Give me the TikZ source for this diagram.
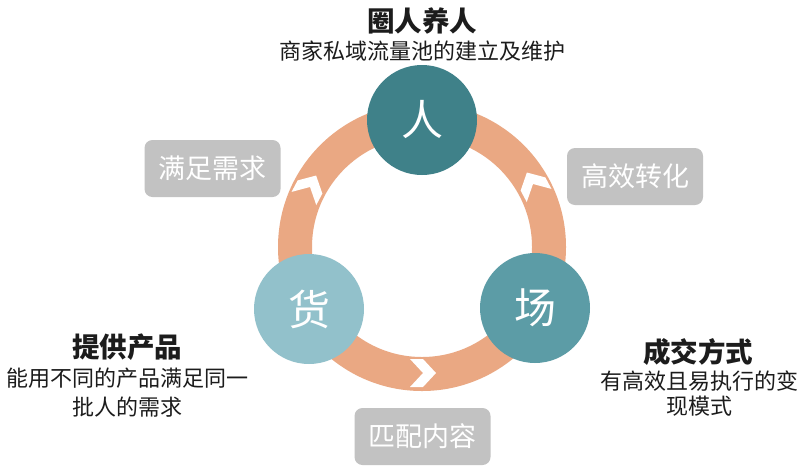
\documentclass[tikz,border=0pt]{standalone}
\usepackage{fontspec}
\setmainfont{Noto Sans CJK SC}
\definecolor{ringc}{HTML}{EAA883}
\definecolor{topc}{HTML}{3F8189}
\definecolor{rightc}{HTML}{5C9CA6}
\definecolor{leftc}{HTML}{92C1CB}
\definecolor{boxc}{HTML}{C2C2C2}
\definecolor{txtc}{HTML}{1C1C1C}
\tikzset{
  hub/.style={circle, minimum size=110pt, inner sep=0pt, text=white, font=\fontsize{42}{46}\selectfont},
  tag/.style={rounded corners=8pt, fill=boxc, text=white, minimum width=136pt, minimum height=57pt, inner sep=0pt, font=\fontsize{27}{30}\selectfont},
  headline/.style={text=txtc, inner sep=0pt, font=\bfseries\fontsize{27.5}{31}\selectfont},
  desc/.style={text=txtc, inner sep=0pt, font=\fontsize{22}{26}\selectfont}
}
\newcommand{\chevronat}[3]{%
  \fill[white, shift={(#1,#2)}, rotate=#3]
    (-13pt,-14pt) -- (0pt,-14pt) -- (13pt,0pt) -- (0pt,14pt) -- (-13pt,14pt) -- (0pt,0pt) -- cycle;}
\begin{document}
\begin{tikzpicture}[x=1pt,y=-1pt]
\useasboundingbox (0,0) rectangle (810,469);
\fill[white] (0,0) rectangle (810,469);
% ring
\coordinate (c) at (422,247);
\draw[ringc, line width=34pt] (c) circle[radius=127pt];
% chevrons
\chevronat{310}{187}{62}
\chevronat{533}{184}{118}
\chevronat{423}{373}{0}
% hubs
\node[hub, fill=topc] (ren) at (422,120) {人};
\node[hub, fill=leftc] (huo) at (309,309) {货};
\node[hub, fill=rightc] (chang) at (535,308) {场};
% tags
\node[tag] (manzu) at (212.5,168.5) {满足需求};
\node[tag] (gaoxiao) at (635,176.5) {高效转化};
\node[tag] (pipei) at (422.5,436.5) {匹配内容};
% top text
\node[headline] (t1) at (422,21) {圈人养人};
\node[desc] (d1) at (422,51) {商家私域流量池的建立及维护};
% left text
\node[headline] (t2) at (127,347) {提供产品};
\node[desc] (d2a) at (127,378) {能用不同的产品满足同一};
\node[desc] (d2b) at (127,407) {批人的需求};
% right text
\node[headline] (t3) at (698,352) {成交方式};
\node[desc] (d3a) at (699,381) {有高效且易执行的变};
\node[desc] (d3b) at (699,406) {现模式};
\end{tikzpicture}
\end{document}
